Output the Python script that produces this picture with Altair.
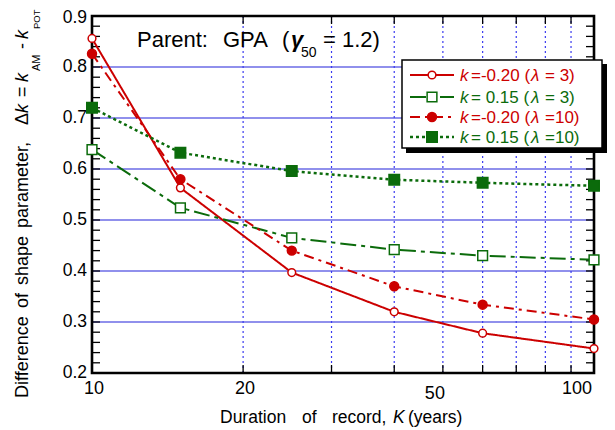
import altair as alt
import pandas as pd

# ---- data ----
durations = [10, 15, 25, 40, 60, 100]
series_names = ["k=-0.20 (λ=3)", "k=0.15 (λ=3)", "k=-0.20 (λ=10)", "k=0.15 (λ=10)"]
s1 = [0.856, 0.563, 0.397, 0.320, 0.278, 0.248]   # red, solid, open circle
s2 = [0.638, 0.524, 0.465, 0.442, 0.430, 0.422]   # green, dash-dot, open square
s3 = [0.826, 0.580, 0.440, 0.370, 0.334, 0.305]   # red, dash-dot, filled circle
s4 = [0.720, 0.632, 0.596, 0.579, 0.573, 0.567]   # green, dotted, filled square
values = [s1, s2, s3, s4]

x_tick_labels = [10, 20, 50, 100]
x_minor = [20, 30, 40, 50, 60, 70, 80, 90]
y_tick_labels = [0.2, 0.3, 0.4, 0.5, 0.6, 0.7, 0.8, 0.9]
y_grid = [0.3, 0.4, 0.5, 0.6, 0.7, 0.8]
y_minor = [round(0.2 + 0.02 * i, 2) for i in range(36)]

RED = "#cc0000"
GREEN = "#0b6b0b"
BLUE = "#6b6be6"
FONT = "Liberation Sans"
W, H = 502, 357

styles = [
    dict(color=RED, dash=[1, 0], shape="circle", filled=False, size=60, sw=2.0),
    dict(color=GREEN, dash=[16, 5, 4, 5], shape="square", filled=False, size=95, sw=2.0),
    dict(color=RED, dash=[10, 5, 3, 5], shape="circle", filled=True, size=80, sw=2.0),
    dict(color=GREEN, dash=[3, 3], shape="square", filled=True, size=110, sw=2.5),
]

xscale = alt.Scale(type="log", domain=[10, 100], nice=False)
yscale = alt.Scale(domain=[0.2, 0.9], nice=False, zero=False)

one = pd.DataFrame({"x": [10], "y": [0.2]})
layers = []

# horizontal grid
hg = alt.Chart(pd.DataFrame({"v": y_grid})).mark_rule(color=BLUE, strokeWidth=1.6).encode(
    y=alt.Y("v:Q", scale=yscale, axis=None), x=alt.value(0), x2=alt.value(W))
# vertical dotted grid
vg = alt.Chart(pd.DataFrame({"v": x_minor})).mark_rule(
    color="#3a3af0", strokeWidth=1.2, strokeDash=[2, 3]).encode(
    x=alt.X("v:Q", scale=xscale, axis=None), y=alt.value(0), y2=alt.value(H))
layers += [hg, vg]

# inward ticks
ydf = pd.DataFrame({"v": y_minor})
xdf = pd.DataFrame({"v": x_minor})
for (a, b) in [(0, 8), (W - 8, W)]:
    layers.append(alt.Chart(ydf).mark_rule(color="black", strokeWidth=1.3).encode(
        y=alt.Y("v:Q", scale=yscale, axis=None), x=alt.value(a), x2=alt.value(b)))
for (a, b) in [(H - 8, H), (0, 8)]:
    layers.append(alt.Chart(xdf).mark_rule(color="black", strokeWidth=1.3).encode(
        x=alt.X("v:Q", scale=xscale, axis=None), y=alt.value(a), y2=alt.value(b)))

# frame
layers.append(alt.Chart(one).mark_rect(fill=None, stroke="black", strokeWidth=2.6).encode(
    x=alt.value(0), x2=alt.value(W), y=alt.value(0), y2=alt.value(H)))

# tick labels through the scales
ylab = pd.DataFrame({"v": y_tick_labels[:-1], "t": [f"{v:.1f}" for v in y_tick_labels[:-1]]})
ytop = pd.DataFrame({"v": y_tick_labels[-1:], "t": [f"{v:.1f}" for v in y_tick_labels[-1:]]})
layers.append(alt.Chart(ylab).mark_text(align="right", baseline="middle", font=FONT,
                                        fontSize=17.5, color="black").encode(
    y=alt.Y("v:Q", scale=yscale, axis=None), x=alt.value(-5), text="t:N"))
layers.append(alt.Chart(ytop).mark_text(align="right", baseline="middle", font=FONT,
                                        fontSize=17.5, color="black", dy=2).encode(
    y=alt.Y("v:Q", scale=yscale, axis=None), x=alt.value(-5), text="t:N"))
xl_center = pd.DataFrame({"v": [10, 20], "t": ["10", "20"]})
xl_50 = pd.DataFrame({"v": [50], "t": ["50"]})
xl_100 = pd.DataFrame({"v": [100], "t": ["100"]})
layers.append(alt.Chart(xl_center).mark_text(align="center", baseline="middle", font=FONT,
                                             fontSize=18, color="black", dx=2).encode(
    x=alt.X("v:Q", scale=xscale, axis=None), y=alt.value(373), text="t:N"))
layers.append(alt.Chart(xl_50).mark_text(align="center", baseline="middle", font=FONT,
                                         fontSize=18, color="black", dx=-8).encode(
    x=alt.X("v:Q", scale=xscale, axis=None), y=alt.value(378), text="t:N"))
layers.append(alt.Chart(xl_100).mark_text(align="right", baseline="middle", font=FONT,
                                          fontSize=18, color="black", dx=-2).encode(
    x=alt.X("v:Q", scale=xscale, axis=None), y=alt.value(373), text="t:N"))

# series lines
for name, vals, st in zip(series_names, values, styles):
    df = pd.DataFrame({"K": durations, "dk": vals, "s": name})
    layers.append(alt.Chart(df).mark_line(
        color=st["color"], strokeWidth=st["sw"], strokeDash=st["dash"]).encode(
        x=alt.X("K:Q", scale=xscale, axis=None), y=alt.Y("dk:Q", scale=yscale, axis=None)))
# series markers
for name, vals, st in zip(series_names, values, styles):
    df = pd.DataFrame({"K": durations, "dk": vals, "s": name})
    layers.append(alt.Chart(df).mark_point(
        shape=st["shape"], size=st["size"], filled=True,
        fill=st["color"] if st["filled"] else "white",
        stroke=st["color"], strokeWidth=1.5, opacity=1).encode(
        x=alt.X("K:Q", scale=xscale, axis=None), y=alt.Y("dk:Q", scale=yscale, axis=None)))

# legend box with shadow
layers.append(alt.Chart(one).mark_rect(fill="black").encode(
    x=alt.value(314), x2=alt.value(515), y=alt.value(48), y2=alt.value(137)))
layers.append(alt.Chart(one).mark_rect(fill="white", stroke="black", strokeWidth=1.5).encode(
    x=alt.value(310), x2=alt.value(510), y=alt.value(44), y2=alt.value(132)))

rows = [59, 81, 101, 121]
kvals = ["=-0.20 (", "= 0.15 (", "=-0.20 (", "= 0.15 ("]
lvals = ["= 3)", "= 3)", "=10)", "=10)"]
for ry, st, kv, lv in zip(rows, styles, kvals, lvals):
    layers.append(alt.Chart(one).mark_rule(
        color=st["color"], strokeWidth=st["sw"], strokeDash=st["dash"]).encode(
        x=alt.value(318), x2=alt.value(362), y=alt.value(ry)))
    layers.append(alt.Chart(one).mark_point(
        shape=st["shape"], size=st["size"], filled=True,
        fill=st["color"] if st["filled"] else "white",
        stroke=st["color"], strokeWidth=1.5, opacity=1).encode(
        x=alt.value(340), y=alt.value(ry)))
    for t, xx, ital in [("k", 368, True), (kv, 379, False), ("λ", 439, True), (lv, 453, False)]:
        layers.append(alt.Chart(one).mark_text(
            align="left", baseline="middle", font=FONT, fontSize=17,
            fontStyle="italic" if ital else "normal", color=st["color"]).encode(
            x=alt.value(xx), y=alt.value(ry + 1), text=alt.value(t)))


def txt(t, x, y, size=17, style="normal", weight="normal", align="left",
        baseline="alphabetic", angle=0, color="black"):
    kw = dict(align=align, baseline=baseline, font=FONT, fontSize=size,
              fontStyle=style, fontWeight=weight, color=color)
    if angle:
        kw["angle"] = angle
    return alt.Chart(one).mark_text(**kw).encode(
        x=alt.value(x), y=alt.value(y), text=alt.value(t))


# annotation "Parent: GPA (γ50 = 1.2)"
layers += [
    txt("Parent:", 45, 31, size=22),
    txt("GPA", 131, 31, size=22),
    txt("(", 190, 31, size=22),
    txt("γ", 199, 31, size=22, style="italic", weight="bold"),
    txt("50", 209, 41, size=14),
    txt("= 1.2)", 231, 31, size=22),
]

# x title
layers += [
    txt("Duration", 128, 407, size=17.5),
    txt("of", 210, 407, size=17.5),
    txt("record,", 240, 407, size=17.5),
    txt("K", 301, 407, size=17.5, style="italic"),
    txt("(years)", 316, 407, size=17.5),
]

# y title (rotated)
yx, sx = -69, -55
layers += [
    txt("Difference", yx, 382, size=18, angle=270, baseline="middle"),
    txt("of", yx, 292, size=18, angle=270, baseline="middle"),
    txt("shape", yx, 269, size=18, angle=270, baseline="middle"),
    txt("parameter,", yx, 212, size=18, angle=270, baseline="middle"),
    txt("Δ", yx, 109, size=18, angle=270, baseline="middle"),
    txt("k", yx, 97, size=18, angle=270, baseline="middle", style="italic"),
    txt("=", yx, 81, size=18, angle=270, baseline="middle"),
    txt("k", yx, 66, size=18, angle=270, baseline="middle", style="italic"),
    txt("AM", sx, 55, size=11, angle=270, baseline="middle"),
    txt("-", yx, 33, size=18, angle=270, baseline="middle"),
    txt("k", yx, 23, size=18, angle=270, baseline="middle", style="italic"),
    txt("POT", sx, 13, size=9.5, angle=270, baseline="middle"),
]

chart = alt.layer(*layers).properties(
    width=W, height=H,
    padding={"left": 84, "top": 8, "right": 13, "bottom": 55},
    autosize=alt.AutoSizeParams(type="none"),
).configure_view(stroke=None).configure(background="white")

chart.save("out.html", embed_options={"renderer": "svg", "actions": False})
